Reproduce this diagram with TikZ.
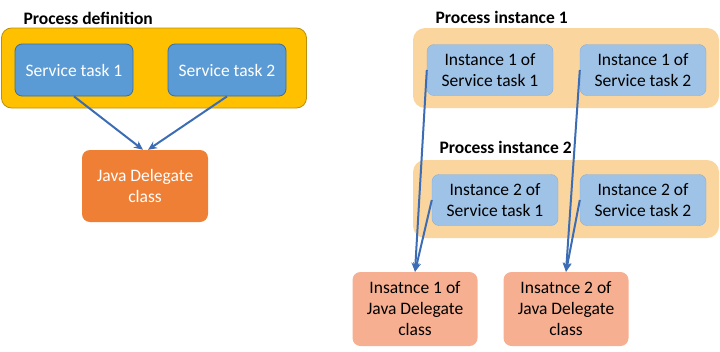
\documentclass[tikz,border=0pt]{standalone}
\usepackage{fontspec}
\setmainfont{Carlito}
\usepackage{xcolor}
\usetikzlibrary{positioning, arrows.meta}

\definecolor{defgold}{HTML}{FFC000}
\definecolor{defedge}{HTML}{B8900A}
\definecolor{taskblue}{HTML}{5B9BD5}
\definecolor{taskedge}{HTML}{3E6E99}
\definecolor{javaorange}{HTML}{EF7F35}
\definecolor{instpeach}{HTML}{FAD59E}
\definecolor{instblue}{HTML}{9FC2E7}
\definecolor{instedge}{HTML}{86AEDB}
\definecolor{jdsalmon}{HTML}{F6AF90}
\definecolor{arrowblue}{HTML}{3C6DB4}

\begin{document}
\begin{tikzpicture}[
  x=1pt, y=-1pt,
  every node/.style={align=center, font=\fontsize{17.5}{21}\selectfont},
  title/.style={anchor=west, font=\fontsize{17.5}{21}\selectfont\bfseries},
  defgroup/.style={rectangle, draw=defedge, fill=defgold, thick, rounded corners=10pt, minimum width=305pt, minimum height=80pt},
  instgroup/.style={rectangle, fill=instpeach, rounded corners=12pt, minimum width=306pt},
  task/.style={rectangle, draw=taskedge, fill=taskblue, thick, rounded corners=7pt, text=white, minimum width=118pt, minimum height=52pt},
  java/.style={rectangle, fill=javaorange, rounded corners=8pt, text=white, minimum width=126pt, minimum height=72pt},
  inst/.style={rectangle, draw=instedge, fill=instblue, rounded corners=7pt, minimum width=126pt, minimum height=51pt},
  jd/.style={rectangle, fill=jdsalmon, rounded corners=8pt, minimum width=125pt, minimum height=74pt},
  arrow/.style={-{Stealth[length=9pt, width=8pt]}, line width=2pt, draw=arrowblue}
]
\useasboundingbox (0,0) rectangle (720,351);

%% Left: Process definition
\node[title] (deftitle) at (20,18) {Process definition};
\node[defgroup] (defbox) at (154,68) {};
\node[task] (st1) at (74,70) {Service task 1};
\node[task] (st2) at (227,70) {Service task 2};
\node[java] (java) at (145,186) {Java Delegate\\class};

%% Right: Process instances
\node[title] (pi1title) at (432,17) {Process instance 1};
\node[instgroup, minimum height=80pt] (pi1) at (566,68) {};
\node[inst] (inst11) at (490,70) {Instance 1 of\\Service task 1};
\node[inst] (inst12) at (643,70) {Instance 1 of\\Service task 2};

\node[title] (pi2title) at (436,147) {Process instance 2};
\node[instgroup, minimum height=78pt] (pi2) at (566,199) {};
\node[inst] (inst21) at (495,200) {Instance 2 of\\Service task 1};
\node[inst] (inst22) at (643,200) {Instance 2 of\\Service task 2};

%% Bottom: delegate instances
\node[jd] (jd1) at (415,309) {Insatnce 1 of\\Java Delegate\\class};
\node[jd] (jd2) at (566,309) {Insatnce 2 of\\Java Delegate\\class};

%% Connections
\draw[arrow] (st1.south) -- ([xshift=-2pt]java.north);
\draw[arrow] (st2.south) -- ([xshift=3pt]java.north);

\draw[arrow] (inst11.west) -- (jd1.north);
\draw[arrow] (inst21.west) -- (jd1.north);
\draw[arrow] (inst12.west) -- (jd2.north);
\draw[arrow] (inst22.west) -- (jd2.north);

\end{tikzpicture}
\end{document}
